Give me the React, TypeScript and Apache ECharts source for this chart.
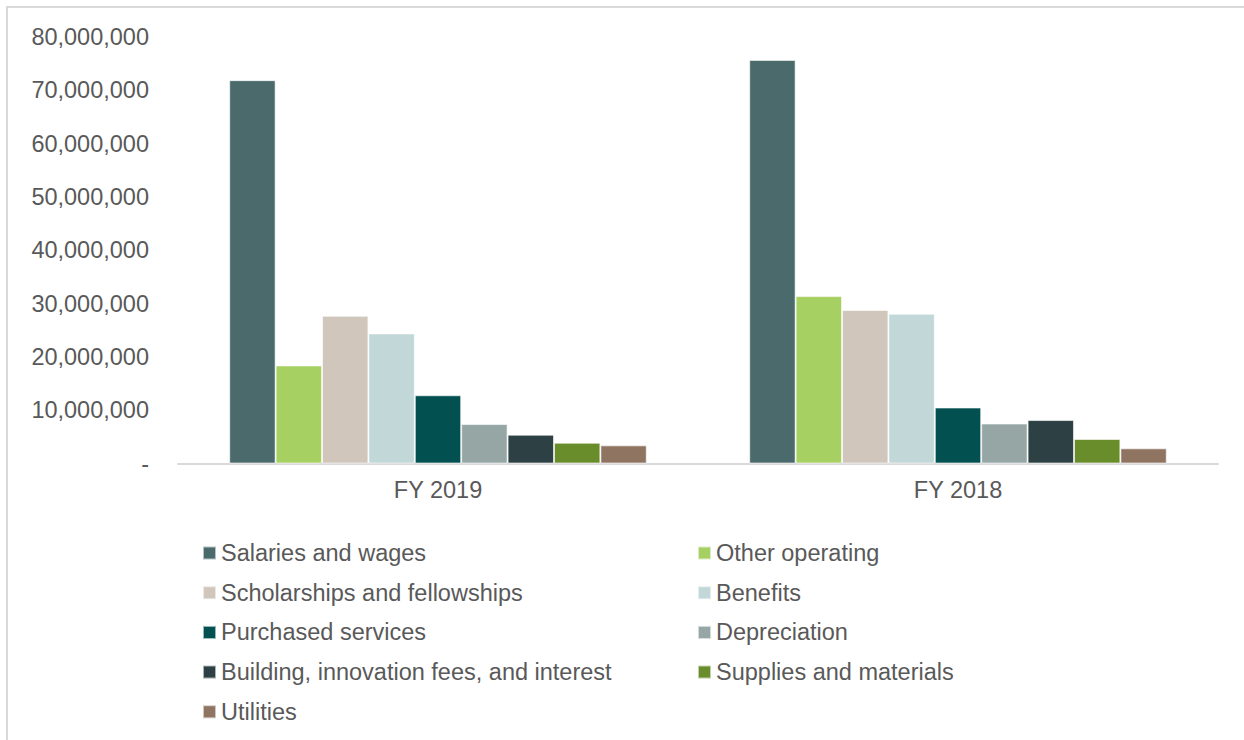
import React, { useEffect, useRef } from "react";
import * as echarts from "echarts";

const categories = ["FY 2019", "FY 2018"];

const seriesNames = [
  "Salaries and wages",
  "Other operating",
  "Scholarships and fellowships",
  "Benefits",
  "Purchased services",
  "Depreciation",
  "Building, innovation fees, and interest",
  "Supplies and materials",
  "Utilities",
];

const salaries = [71900000, 75700000];
const otherOperating = [18400000, 31400000];
const scholarships = [27700000, 28800000];
const benefits = [24400000, 28100000];
const purchased = [12800000, 10500000];
const depreciation = [7400000, 7500000];
const building = [5400000, 8150000];
const supplies = [3900000, 4600000];
const utilities = [3400000, 2850000];

const seriesValues = [
  salaries,
  otherOperating,
  scholarships,
  benefits,
  purchased,
  depreciation,
  building,
  supplies,
  utilities,
];

const colors = [
  "#4a6a6b",
  "#a7d063",
  "#d1c6bc",
  "#c1d7d8",
  "#025050",
  "#95a6a5",
  "#2d4044",
  "#6a8d2b",
  "#8f7461",
];

const yTicks = { min: 0, max: 80000000, interval: 10000000 };

const legendCol1 = [seriesNames[0], seriesNames[2], seriesNames[4], seriesNames[6], seriesNames[8]];
const legendCol2 = [seriesNames[1], seriesNames[3], seriesNames[5], seriesNames[7]];

const FONT = "'Liberation Sans', Arial, sans-serif";
const TEXT_COLOR = "#595959";
const FS = 23.5;

export default function App() {
  const ref = useRef<HTMLDivElement>(null);

  useEffect(() => {
    if (!ref.current) return;
    const chart = echarts.init(ref.current, undefined, { renderer: "svg" });
    const legendText = {
      fontSize: FS,
      color: TEXT_COLOR,
      fontFamily: FONT,
      lineHeight: 23,
    };
    chart.setOption({
      animation: false,
      backgroundColor: "#ffffff",
      textStyle: { fontFamily: FONT },
      graphic: [
        {
          type: "rect",
          shape: { x: 7, y: 7, width: 1400, height: 900 },
          style: { fill: "none", stroke: "#d9d9d9", lineWidth: 2 },
          silent: true,
        },
      ],
      grid: {
        left: 178,
        right: 26,
        top: 37,
        bottom: 276.5,
        containLabel: false,
      },
      legend: [
        {
          data: legendCol1,
          orient: "vertical",
          left: 202,
          top: 541,
          padding: 0,
          itemWidth: 13,
          itemHeight: 13,
          itemGap: 15.7,
          icon: "rect",
          textStyle: legendText,
          selectedMode: false,
        },
        {
          data: legendCol2,
          orient: "vertical",
          left: 697,
          top: 541,
          padding: 0,
          itemWidth: 13,
          itemHeight: 13,
          itemGap: 15.7,
          icon: "rect",
          textStyle: legendText,
          selectedMode: false,
        },
      ],
      xAxis: {
        type: "category",
        data: categories,
        axisLine: { show: true, lineStyle: { color: "#d9d9d9", width: 2 } },
        axisTick: { show: false },
        axisLabel: {
          fontSize: FS,
          color: TEXT_COLOR,
          fontFamily: FONT,
          margin: 14,
        },
      },
      yAxis: {
        type: "value",
        min: yTicks.min,
        max: yTicks.max,
        interval: yTicks.interval,
        axisLine: { show: false },
        axisTick: { show: false },
        splitLine: { show: false },
        axisLabel: {
          fontSize: FS,
          color: TEXT_COLOR,
          fontFamily: FONT,
          margin: 29,
          formatter: (v: number) =>
            v === 0 ? "-" : v.toString().replace(/\B(?=(\d{3})+(?!\d))/g, ","),
        },
      },
      series: seriesNames.map((name, i) => ({
        name,
        type: "bar",
        data: seriesValues[i],
        barGap: "0%",
        barCategoryGap: "19.7%",
        itemStyle: {
          color: colors[i],
          borderColor: "rgba(255,255,255,0.6)",
          borderWidth: 1,
        },
      })),
    });
    return () => chart.dispose();
  }, []);

  return (
    <div
      ref={ref}
      style={{ position: "absolute", left: 0, top: 0, width: 1244, height: 740 }}
    />
  );
}
